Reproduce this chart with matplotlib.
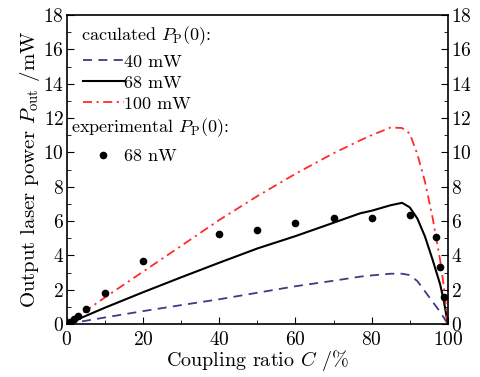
import numpy as np
import matplotlib
matplotlib.use("Agg")
import matplotlib.pyplot as plt
from matplotlib.ticker import MultipleLocator

plt.rcParams.update({'font.family': 'cmr10', 'mathtext.fontset': 'cm',
                     'axes.formatter.use_mathtext': True, 'font.size': 13})

# calculated curves
C_calc = [0, 10, 20, 30, 40, 50, 60, 70, 77, 80, 85, 88, 90, 92, 94, 96, 98, 99, 100]
P_40 = [0, 0.38, 0.75, 1.1, 1.44, 1.82, 2.2, 2.52, 2.76, 2.83, 2.93, 2.93, 2.85, 2.5, 1.9, 1.3, 0.7, 0.35, 0]
P_68 = [0, 0.95, 1.85, 2.72, 3.57, 4.4, 5.12, 5.9, 6.45, 6.6, 6.92, 7.06, 6.8, 6.15, 5.1, 3.75, 2.3, 1.3, 0]
P_100 = [0, 1.55, 3.05, 4.55, 6.06, 7.45, 8.75, 9.95, 10.7, 11.0, 11.45, 11.42, 11.1, 9.9, 8.3, 6.2, 3.7, 2.1, 0]

# experimental points, 68 mW
C_exp = [0.8, 1.8, 3, 5, 10, 20, 40, 50, 60, 70, 80, 90, 97, 98, 99]
P_exp = [0.1, 0.27, 0.46, 0.86, 1.8, 3.67, 5.25, 5.5, 5.86, 6.15, 6.2, 6.38, 5.07, 3.35, 1.55]

fig = plt.figure(figsize=(4.81, 3.77), dpi=100)
ax = fig.add_axes([0.139, 0.1406, 0.792, 0.8194])

l40, = ax.plot(C_calc, P_40, color="#3c3c82", lw=1.3, dashes=(5, 3.5))
l68, = ax.plot(C_calc, P_68, color="black", lw=1.5)
l100, = ax.plot(C_calc, P_100, color="#ff2a2a", lw=1.3, dashes=(5, 2.5, 1.2, 2.5))
pts, = ax.plot(C_exp, P_exp, "o", color="black", ms=4.5, ls="none")

ax.set_xlim(0, 100)
ax.set_ylim(0, 18)
ax.xaxis.set_major_locator(MultipleLocator(20))
ax.xaxis.set_minor_locator(MultipleLocator(10))
ax.yaxis.set_major_locator(MultipleLocator(2))
ax.yaxis.set_minor_locator(MultipleLocator(1))
ax.tick_params(which="both", direction="in", top=False, right=True,
               labelright=True, labelsize=14, pad=2)
ax.tick_params(axis="x", which="major", pad=5)
ax.tick_params(which="major", length=5)
ax.tick_params(which="minor", length=3)
for s in ax.spines.values():
    s.set_linewidth(1.2)

ax.set_xlabel(r"Coupling ratio $C$ /%", fontsize=14.5, labelpad=-1)
ax.set_ylabel(r"Output laser power $P_{\rm out}$ /mW", fontsize=15, labelpad=1)

ax.text(0.037, 0.935, r"caculated $P_{\rm P}(0)$:", transform=ax.transAxes,
        fontsize=13, va="center")
leg1 = ax.legend([l40, l68, l100], ["40 mW", "68 mW", "100 mW"],
                 loc="upper left", bbox_to_anchor=(0.008, 0.915), frameon=False,
                 fontsize=13, handlelength=2.3, handletextpad=0.0,
                 labelspacing=0.3, borderaxespad=0.3)
ax.add_artist(leg1)
ax.text(0.01, 0.635, r"experimental $P_{\rm P}(0)$:", transform=ax.transAxes,
        fontsize=13, va="center")
ax.legend([pts], ["68 nW"], loc="upper left", bbox_to_anchor=(0.008, 0.61),
          frameon=False, fontsize=13, handlelength=2.3, handletextpad=0.0,
          borderaxespad=0.3)

fig.savefig("out.png", dpi=100)
